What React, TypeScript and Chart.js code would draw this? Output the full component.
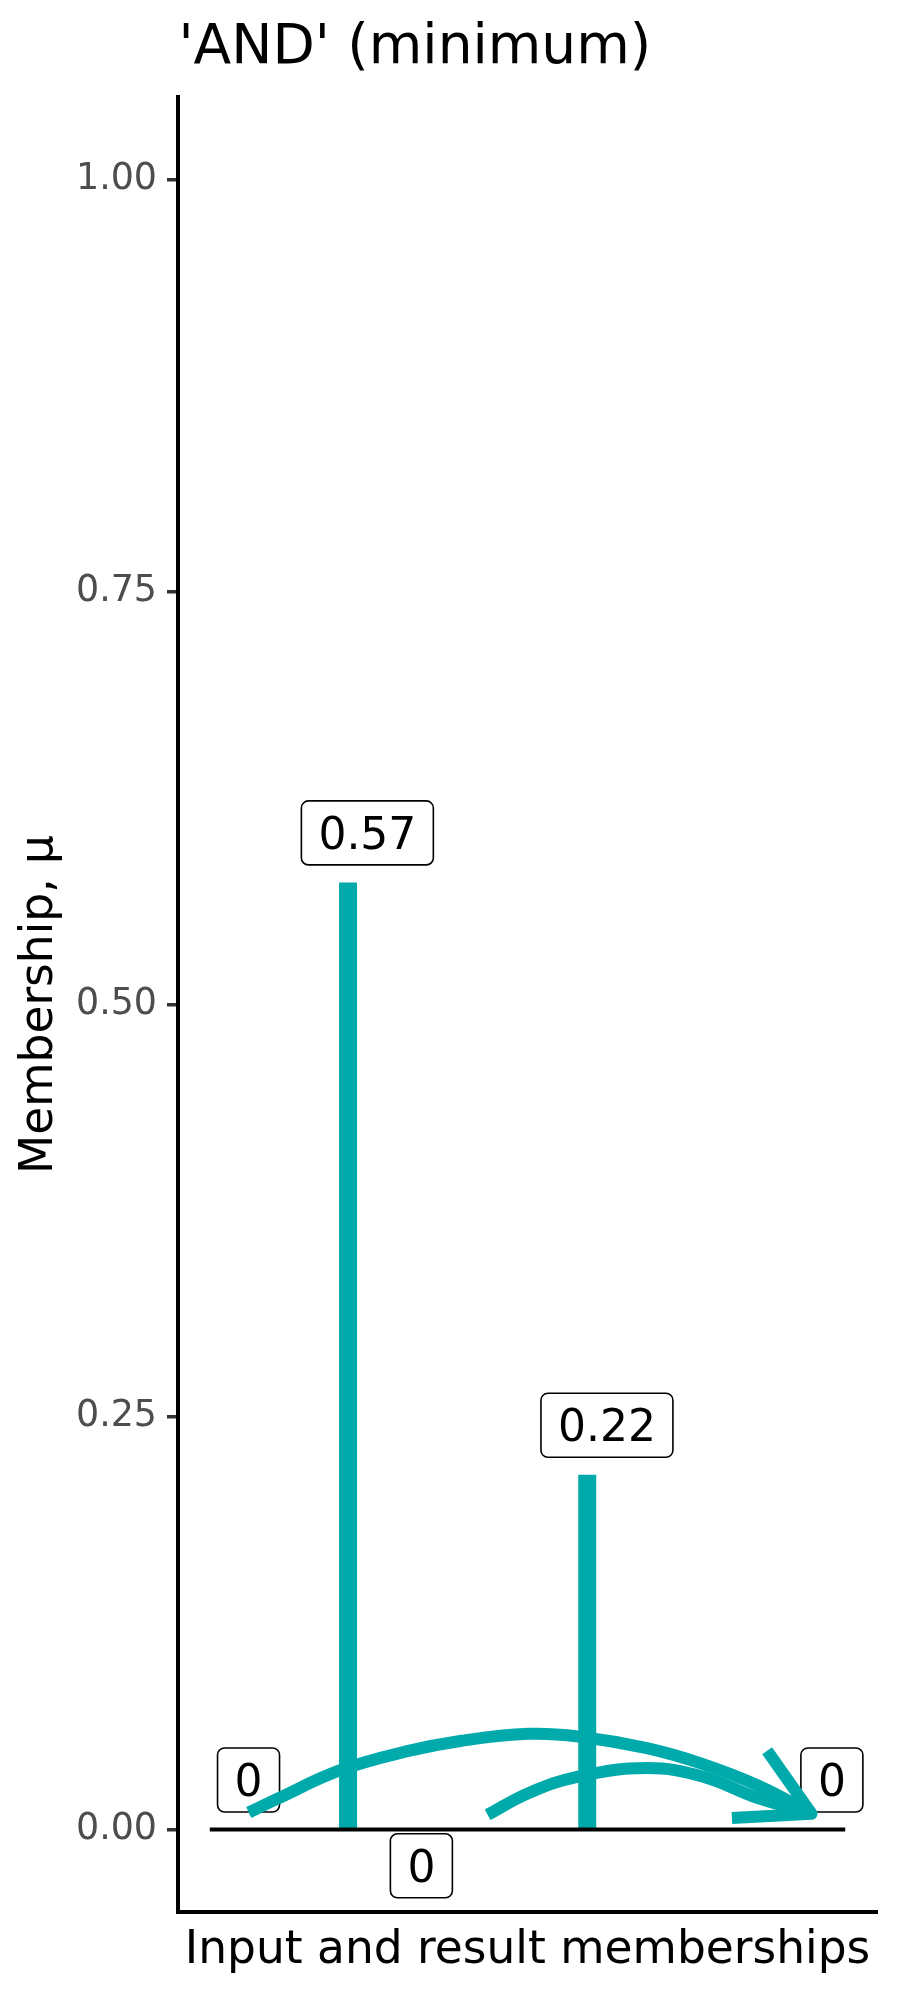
import React, { useEffect, useRef } from "react";
import { Chart, registerables } from "chart.js";

Chart.register(...registerables);

// ---- data ----
const TITLE = "'AND' (minimum)";
const X_TITLE = "Input and result memberships";
const Y_TITLE = "Membership, μ";

const X_MIN = -5;
const X_MAX = 105;
const Y_MIN = -0.05;
const Y_MAX = 1.05;
const yTicks = [0, 0.25, 0.5, 0.75, 1];

const barX = [21.76, 59.4];
const barValues = [0.574, 0.215];

const labelTexts = ["0.57", "0.22", "0", "0", "0"];
const labelX = [24.8, 62.5, 6.1, 33.3, 97.9];
const labelY = [0.604, 0.245, 0.03, -0.022, 0.03];

const baselineX = [0, 100];
const baselineY = [0, 0];

const curve1X = [6.13, 10.51, 20.43, 30.91, 39.65, 50.13, 57.99, 68.78, 77.5, 86.26, 94.7];
const curve1Y = [0.0103, 0.0184, 0.0358, 0.0473, 0.0538, 0.058, 0.0564, 0.0493, 0.0398, 0.0267, 0.0099];

const curve2X = [43.72, 50.13, 57.99, 68.78, 77.5, 86.26, 94.7];
const curve2Y = [0.0089, 0.022, 0.0321, 0.0372, 0.0321, 0.019, 0.0099];

const arrowX = [87.71, 94.7, 82.17];
const arrowY = [0.0477, 0.0095, 0.0069];

// ---- styles ----
const TEAL = "#00AAAA";
const FONT = "'DejaVu Sans', sans-serif";

const zip = (xs: number[], ys: number[]) => xs.map((x, i) => ({ x, y: ys[i] }));

function roundRect(ctx: CanvasRenderingContext2D, x: number, y: number, w: number, h: number, r: number) {
  ctx.beginPath();
  ctx.moveTo(x + r, y);
  ctx.lineTo(x + w - r, y);
  ctx.arcTo(x + w, y, x + w, y + r, r);
  ctx.lineTo(x + w, y + h - r);
  ctx.arcTo(x + w, y + h, x + w - r, y + h, r);
  ctx.lineTo(x + r, y + h);
  ctx.arcTo(x, y + h, x, y + h - r, r);
  ctx.lineTo(x, y + r);
  ctx.arcTo(x, y, x + r, y, r);
  ctx.closePath();
}

const annotPlugin = {
  id: "annot",
  beforeDatasetsDraw(chart: any) {
    const { ctx, scales } = chart;
    const xs = scales.x;
    const ys = scales.y;
    ctx.save();
    const fs = 44;
    ctx.font = `${fs}px ${FONT}`;
    ctx.textAlign = "center";
    ctx.textBaseline = "alphabetic";
    for (let i = 0; i < labelTexts.length; i++) {
      const cx = xs.getPixelForValue(labelX[i]);
      const cy = ys.getPixelForValue(labelY[i]);
      const tw = ctx.measureText(labelTexts[i]).width;
      const w = tw + 34;
      const h = 64;
      roundRect(ctx, cx - w / 2, cy - h / 2, w, h, 7);
      ctx.fillStyle = "#ffffff";
      ctx.fill();
      ctx.lineWidth = 1.6;
      ctx.strokeStyle = "#000000";
      ctx.stroke();
      ctx.fillStyle = "#000000";
      ctx.fillText(labelTexts[i], cx, cy + (fs * 0.729) / 2);
    }
    ctx.restore();
  },
  afterDraw(chart: any) {
    const { ctx, chartArea } = chart;
    ctx.save();
    ctx.font = `55px ${FONT}`;
    ctx.fillStyle = "#000000";
    ctx.textAlign = "left";
    ctx.textBaseline = "alphabetic";
    ctx.fillText(TITLE, chartArea.left + 0.5, 63);
    ctx.restore();
  },
};

export default function App() {
  const ref = useRef<HTMLCanvasElement | null>(null);

  useEffect(() => {
    if (!ref.current) return;
    Chart.defaults.font.family = FONT;
    const lineDs = (data: any[], width: number, color: string, order: number, extra: any = {}) => ({
      data,
      borderColor: color,
      backgroundColor: color,
      borderWidth: width,
      pointRadius: 0,
      pointHoverRadius: 0,
      fill: false,
      tension: 0,
      borderCapStyle: "butt",
      order,
      ...extra,
    });
    const chart = new Chart(ref.current, {
      type: "line",
      data: {
        datasets: [
          lineDs(zip(curve1X, curve1Y), 12, TEAL, 1, { tension: 0.4 }),
          lineDs(zip(curve2X, curve2Y), 12, TEAL, 1, { tension: 0.4 }),
          lineDs(zip(arrowX, arrowY), 12, TEAL, 1, { borderJoinStyle: "round" }),
          lineDs(zip(baselineX, baselineY), 4, "#000000", 2),
          ...barX.map((bx, i) => lineDs([{ x: bx, y: 0 }, { x: bx, y: barValues[i] }], 18, TEAL, 3)),
        ] as any,
      },
      options: {
        responsive: false,
        maintainAspectRatio: false,
        animation: false,
        events: [],
        layout: { padding: { top: 97, right: 23, left: 0, bottom: 0 } },
        plugins: {
          legend: { display: false },
          tooltip: { enabled: false },
          title: { display: false },
        },
        scales: {
          x: {
            type: "linear",
            min: X_MIN,
            max: X_MAX,
            grid: { display: false },
            ticks: { display: false },
            border: { display: true, color: "#000000", width: 4 },
            title: {
              display: true,
              text: X_TITLE,
              color: "#000000",
              font: { size: 45.5, family: FONT, lineHeight: 1.2 },
              padding: { top: 0, bottom: 21.4 },
            },
            afterFit: (s: any) => {
              s.height = 88;
            },
          },
          y: {
            type: "linear",
            min: Y_MIN,
            max: Y_MAX,
            afterBuildTicks: (s: any) => {
              s.ticks = yTicks.map((v) => ({ value: v }));
            },
            grid: {
              display: true,
              drawOnChartArea: false,
              drawTicks: true,
              tickLength: 11,
              color: "#333333",
              lineWidth: 3.5,
            },
            border: { display: true, color: "#000000", width: 4 },
            ticks: {
              color: "#4D4D4D",
              font: { size: 36.4, family: FONT },
              padding: 10,
              callback: (v: any) => Number(v).toFixed(2),
            },
            title: {
              display: true,
              text: Y_TITLE,
              color: "#000000",
              font: { size: 45.5, family: FONT, lineHeight: 1.2 },
              padding: { top: 12.5, bottom: 0 },
            },
            afterFit: (s: any) => {
              s.width = 178;
            },
          },
        },
      },
      plugins: [annotPlugin],
    });
    return () => chart.destroy();
  }, []);

  return (
    <div style={{ position: "absolute", left: 0, top: 0, width: 900, height: 2000, background: "#ffffff" }}>
      <canvas ref={ref} width={900} height={2000} style={{ display: "block", width: 900, height: 2000 }} />
    </div>
  );
}
